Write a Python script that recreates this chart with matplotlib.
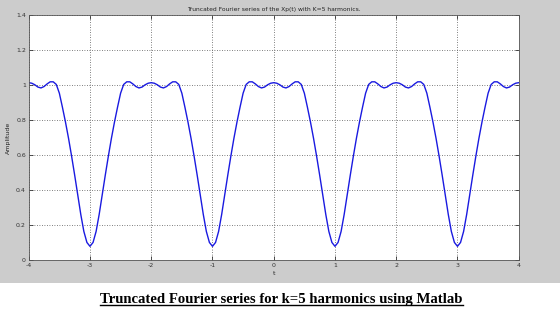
import numpy as np
import matplotlib
matplotlib.use("Agg")
import matplotlib.pyplot as plt
from matplotlib.patches import Rectangle
from matplotlib.lines import Line2D

# t from -4 to 4, step 0.05 (161 samples)
t = np.linspace(-4, 4, 161)

# amplitude, one row per period (-4..-2, -2..0, 0..2, 2..4)
amp = [
    1.015, 1.012, 1.003, 0.990, 0.985, 0.993, 1.008, 1.020, 1.020, 1.005,
    0.955, 0.875, 0.790, 0.697, 0.595, 0.487, 0.375, 0.262, 0.165, 0.102,
    0.080, 0.102, 0.165, 0.262, 0.375, 0.487, 0.595, 0.697, 0.790, 0.875,
    0.955, 1.005, 1.020, 1.020, 1.008, 0.993, 0.985, 0.990, 1.003, 1.012,
    1.015, 1.012, 1.003, 0.990, 0.985, 0.993, 1.008, 1.020, 1.020, 1.005,
    0.955, 0.875, 0.790, 0.697, 0.595, 0.487, 0.375, 0.262, 0.165, 0.102,
    0.080, 0.102, 0.165, 0.262, 0.375, 0.487, 0.595, 0.697, 0.790, 0.875,
    0.955, 1.005, 1.020, 1.020, 1.008, 0.993, 0.985, 0.990, 1.003, 1.012,
    1.015, 1.012, 1.003, 0.990, 0.985, 0.993, 1.008, 1.020, 1.020, 1.005,
    0.955, 0.875, 0.790, 0.697, 0.595, 0.487, 0.375, 0.262, 0.165, 0.102,
    0.080, 0.102, 0.165, 0.262, 0.375, 0.487, 0.595, 0.697, 0.790, 0.875,
    0.955, 1.005, 1.020, 1.020, 1.008, 0.993, 0.985, 0.990, 1.003, 1.012,
    1.015, 1.012, 1.003, 0.990, 0.985, 0.993, 1.008, 1.020, 1.020, 1.005,
    0.955, 0.875, 0.790, 0.697, 0.595, 0.487, 0.375, 0.262, 0.165, 0.102,
    0.080, 0.102, 0.165, 0.262, 0.375, 0.487, 0.595, 0.697, 0.790, 0.875,
    0.955, 1.005, 1.020, 1.020, 1.008, 0.993, 0.985, 0.990, 1.003, 1.012,
    1.015,
]

xticks = [-4, -3, -2, -1, 0, 1, 2, 3, 4]
yticks = [0, 0.2, 0.4, 0.6, 0.8, 1.0, 1.2, 1.4]
ytick_labels = ["0", "0.2", "0.4", "0.6", "0.8", "1", "1.2", "1.4"]

fig = plt.figure(figsize=(5.6, 3.26), dpi=100, facecolor="white")
# matlab grey figure window on top, white page below
fig.add_artist(Rectangle((0, 0.131), 1, 0.869, transform=fig.transFigure,
                         facecolor="#cccccc", edgecolor="none", zorder=0))

ax = fig.add_axes([0.0513, 0.2015, 0.875, 0.7515])
ax.plot(t, amp, color="#1a1ae0", lw=1.0)
ax.set_xlim(-4, 4)
ax.set_ylim(0, 1.4)
ax.set_xticks(xticks)
ax.set_xticklabels([str(v) for v in xticks])
ax.set_yticks(yticks)
ax.set_yticklabels(ytick_labels)
ax.tick_params(direction="in", length=3, width=0.6, labelsize=4.5,
               colors="#333333", top=True, right=True, pad=2)
ax.grid(True, linestyle=(0, (1, 2)), color="#555555", lw=0.6)
for s in ax.spines.values():
    s.set_color("#555555")
    s.set_linewidth(0.6)

ax.set_title("Truncated Fourier series of the Xp(t) with K=5 harmonics.",
             fontsize=4.3, color="#222222", pad=3)
ax.set_xlabel("t", fontsize=4.5, color="#222222", labelpad=2)
ax.set_ylabel("Amplitude", fontsize=4.5, color="#222222", labelpad=4)

cap = fig.text(0.503, 1 - 299 / 326, "Truncated Fourier series for k=5 harmonics using Matlab",
               ha="center", va="center", fontsize=10.6, fontweight="bold",
               family="Liberation Serif", color="black")

# underline the caption
fig.canvas.draw()
bb = cap.get_window_extent().transformed(fig.transFigure.inverted())
fig.add_artist(Line2D([bb.x0, bb.x1], [bb.y0 + 0.003, bb.y0 + 0.003],
                      transform=fig.transFigure, color="black", lw=1.0))

fig.savefig("out.png", dpi=100, facecolor="white")
